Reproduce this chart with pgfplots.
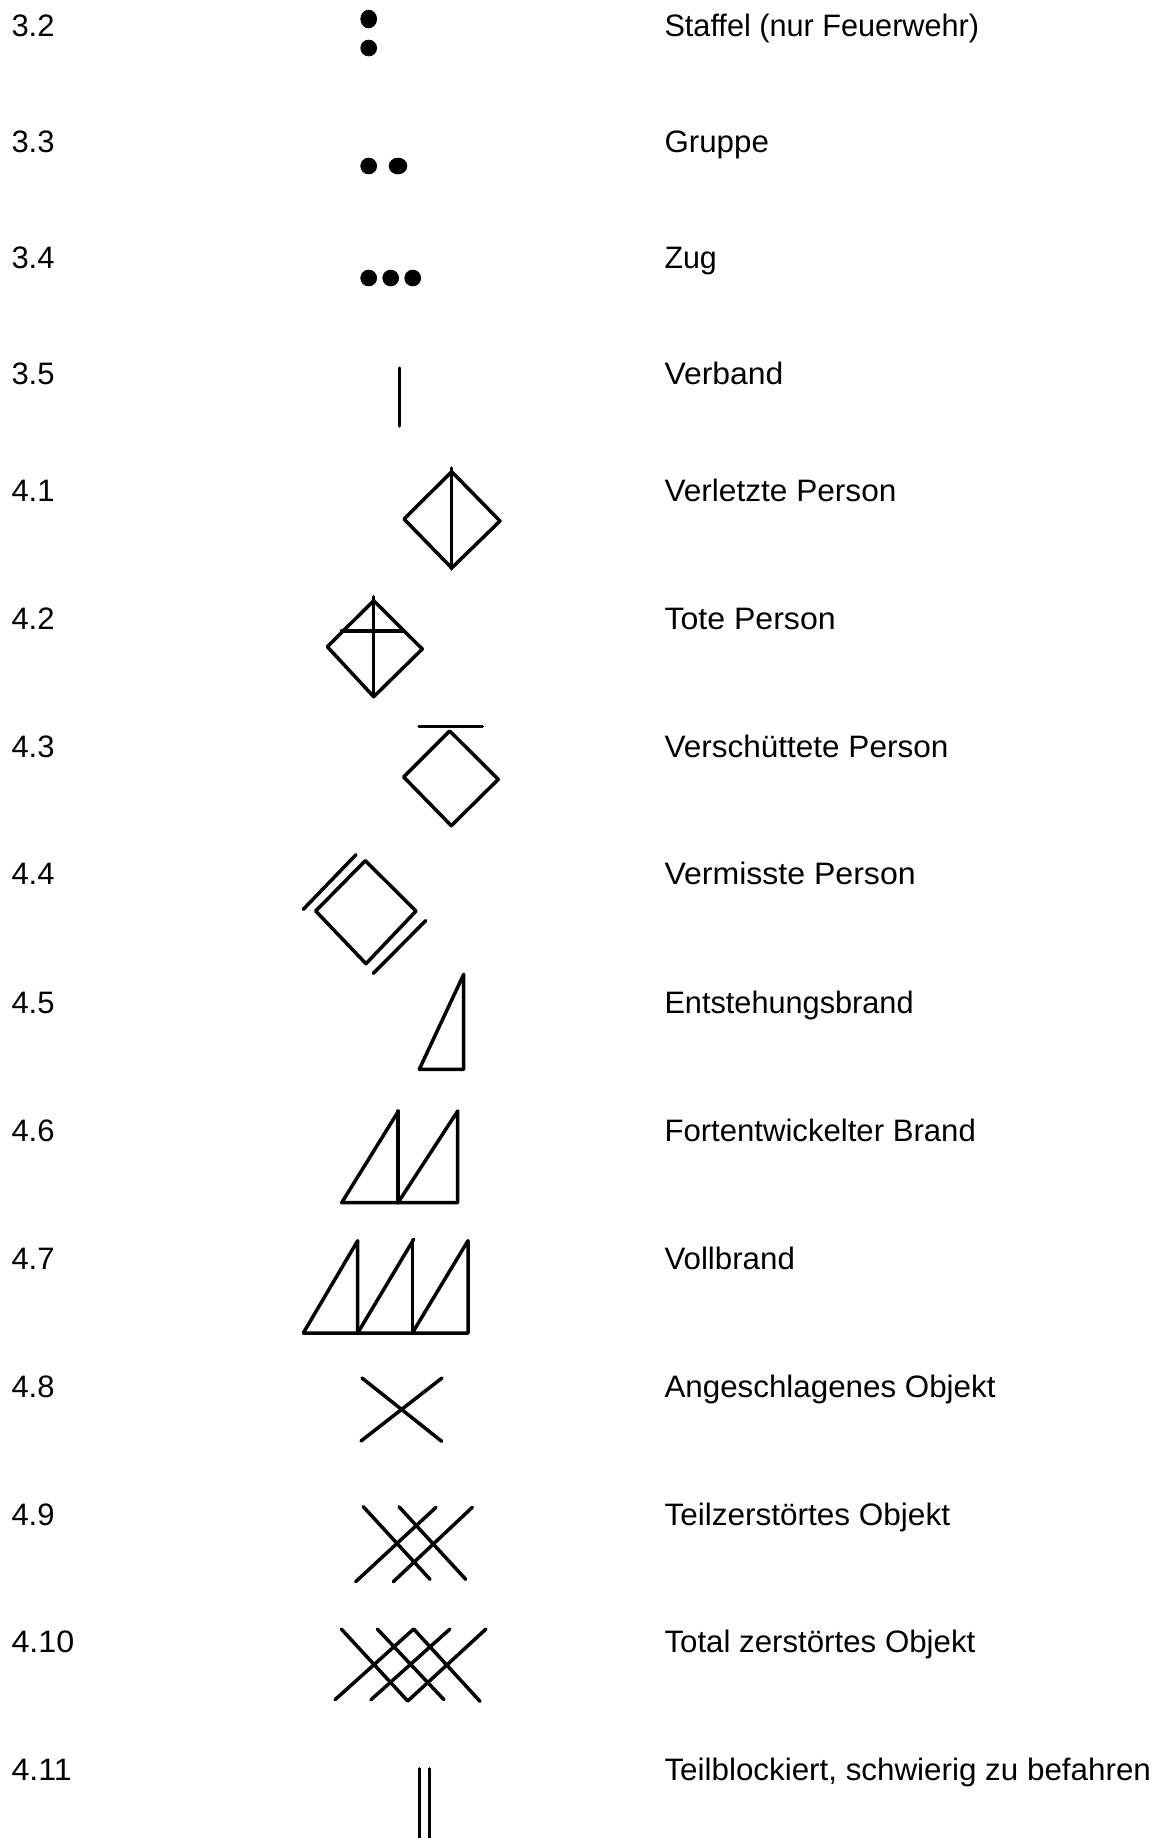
\documentclass[border=0pt]{standalone}
\usepackage{pgfplots}
\pgfplotsset{compat=1.18}
\usepackage{graphicx}
\usepackage{fontspec}
\setmainfont{Liberation Sans}
\newcommand\sx[2]{\scalebox{#1}[1]{#2}}
\tikzset{
  lab/.style={anchor=base west, inner sep=0pt, outer sep=0pt, font=\fontsize{15.5pt}{18pt}\selectfont, text=black},
}
\pgfplotsset{
  sym/.style={black, line width=1.75pt, line cap=round, line join=round, no markers},
  dot/.style={only marks, mark=*, mark size=3.95pt, black, mark options={draw=black, fill=black}},
}
\begin{document}
\begin{tikzpicture}
\begin{axis}[
  width=580pt, height=919pt, scale only axis,
  xmin=0, xmax=1160, ymin=0, ymax=1838, y dir=reverse,
  hide axis,
]
\path (axis cs:0,0) rectangle (axis cs:1160,1838);

% dots
\addplot[dot, mark options={yscale=1.12, draw=black, fill=black}] coordinates {(368.7,19)};
\addplot[dot] coordinates {(368.7,48)};
\addplot[dot] coordinates {(368.7,166)};
\addplot[dot, mark options={xscale=1.12, draw=black, fill=black}] coordinates {(398,166)};
\addplot[dot] coordinates {(368.7,278) (390.7,278) (412.7,278)};
% 3.5
\addplot[sym] coordinates {(399.5,368) (399.5,426)};
% 4.1
\addplot[sym] coordinates {(404,519) (451.7,471.7) (500,521) (451.7,568) (404,519)};
\addplot[sym] coordinates {(451.7,468) (451.7,569)};
% 4.2
\addplot[sym] coordinates {(327.3,646.7) (373.7,600.7) (422.3,649) (373.7,696.7) (327.3,646.7)};
\addplot[sym] coordinates {(373.7,596.7) (373.7,696.7)};
\addplot[sym] coordinates {(341.7,631) (403.3,631)};
% 4.3
\addplot[sym] coordinates {(419,726.7) (482.3,726.7)};
\addplot[sym] coordinates {(403.7,777) (449.7,731) (498.3,779.3) (451.3,825.7) (403.7,777)};
% 4.4
\addplot[sym] coordinates {(315.7,911) (365.3,860.7) (416,911) (366,963.7) (315.7,911)};
\addplot[sym] coordinates {(303.3,909.3) (356,854.7)};
\addplot[sym] coordinates {(373.3,973.3) (425.7,920.7)};
% 4.5
\addplot[sym] coordinates {(463.7,974.3) (463.7,1069.3) (419.3,1069.3) (463.7,974.3)};
% 4.6
\addplot[sym] coordinates {(341.7,1202.7) (398.5,1111)};
\addplot[sym] coordinates {(398,1111) (398,1202.7)};
\addplot[sym] coordinates {(398,1202.7) (457.7,1111) (457.7,1202.7) (341.7,1202.7)};
% 4.7
\addplot[sym] coordinates {(303.3,1333) (357.7,1240.7) (357.7,1333)};
\addplot[sym] coordinates {(357.7,1333) (413.7,1239.3)};
\addplot[sym] coordinates {(412.3,1240) (412.3,1333)};
\addplot[sym] coordinates {(412.3,1333) (468,1240.7) (468,1333) (303.3,1333)};
% 4.8
\addplot[sym] coordinates {(362,1378) (441.7,1441.3)};
\addplot[sym] coordinates {(442,1378) (361,1441)};
% 4.9
\addplot[sym] coordinates {(363.3,1506.7) (430,1579.3)};
\addplot[sym] coordinates {(399,1506.7) (465.7,1579.3)};
\addplot[sym] coordinates {(436,1507.3) (355.7,1581.7)};
\addplot[sym] coordinates {(472.3,1507.3) (393.3,1581.7)};
% 4.10
\addplot[sym] coordinates {(341.3,1629) (407.7,1701) (486,1629)};
\addplot[sym] coordinates {(377.3,1629) (444,1699.7)};
\addplot[sym] coordinates {(450,1629) (371,1699.7)};
\addplot[sym] coordinates {(335,1699.7) (413.7,1629) (480,1701.3)};
% 4.11
\addplot[sym] coordinates {(419.3,1768.7) (419.3,1845)};
\addplot[sym] coordinates {(429.3,1768.7) (429.3,1845)};

% labels
\node[lab] at (axis cs:11.5,36) {3.2};
\node[lab] at (axis cs:11.5,152) {3.3};
\node[lab] at (axis cs:11.5,268.2) {3.4};
\node[lab] at (axis cs:11.5,384.4) {3.5};
\node[lab] at (axis cs:11.5,501.5) {4.1};
\node[lab] at (axis cs:11.5,629.3) {4.2};
\node[lab] at (axis cs:11.5,757.1) {4.3};
\node[lab] at (axis cs:11.5,884.9) {4.4};
\node[lab] at (axis cs:11.5,1013.9) {4.5};
\node[lab] at (axis cs:11.5,1141.7) {4.6};
\node[lab] at (axis cs:11.5,1269.5) {4.7};
\node[lab] at (axis cs:11.5,1397.3) {4.8};
\node[lab] at (axis cs:11.5,1525.1) {4.9};
\node[lab] at (axis cs:11.5,1652.9) {\sx{1.04}{4.10}};
\node[lab] at (axis cs:11.5,1780.7) {\sx{1.04}{4.11}};

\node[lab] at (axis cs:664.5,36) {\sx{0.989}{Staffel (nur Feuerwehr)}};
\node[lab] at (axis cs:664.5,152) {\sx{1.01}{Gruppe}};
\node[lab] at (axis cs:664.5,268.2) {\sx{0.98}{Zug}};
\node[lab] at (axis cs:664.5,384.4) {\sx{1.03}{Verband}};
\node[lab] at (axis cs:664.5,501.5) {\sx{1.02}{Verletzte Person}};
\node[lab] at (axis cs:664.5,629.3) {\sx{1.035}{Tote Person}};
\node[lab] at (axis cs:664.5,757.1) {\sx{1.017}{Verschüttete Person}};
\node[lab] at (axis cs:664.5,884.9) {\sx{1.034}{Vermisste Person}};
\node[lab] at (axis cs:664.5,1013.9) {\sx{0.99}{Entstehungsbrand}};
\node[lab] at (axis cs:664.5,1141.7) {\sx{1.004}{Fortentwickelter Brand}};
\node[lab] at (axis cs:664.5,1269.5) {\sx{1.009}{Vollbrand}};
\node[lab] at (axis cs:664.5,1397.3) {\sx{1.011}{Angeschlagenes Objekt}};
\node[lab] at (axis cs:664.5,1525.1) {\sx{1.017}{Teilzerstörtes Objekt}};
\node[lab] at (axis cs:664.5,1652.9) {\sx{1.008}{Total zerstörtes Objekt}};
\node[lab] at (axis cs:664.5,1780.7) {\sx{1.012}{Teilblockiert, schwierig zu befahren}};
\end{axis}
\end{tikzpicture}
\end{document}
